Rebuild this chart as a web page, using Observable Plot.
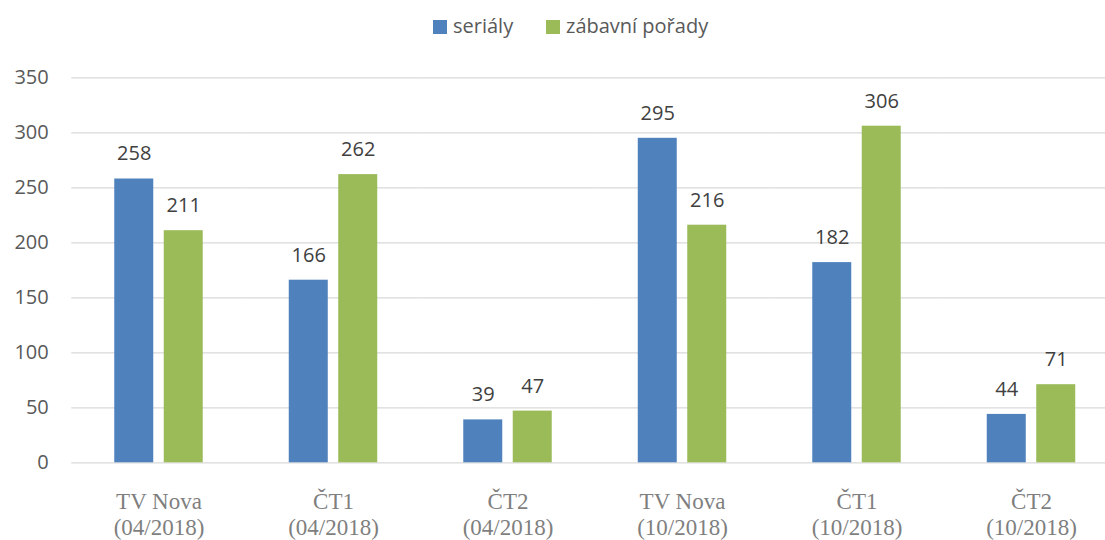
<!DOCTYPE html>
<html><head><meta charset="utf-8">
<script src="https://cdn.jsdelivr.net/npm/d3@7"></script>
<script src="https://cdn.jsdelivr.net/npm/@observablehq/plot@0.6"></script>
<style>
body{margin:0;background:#fff;width:1105px;height:540px;overflow:hidden;font-family:"Open Sans",sans-serif}
#legend{height:60px;position:relative;color:#595959;font-size:20px}
.sw{position:absolute;top:19.5px;width:14px;height:14px}
.lt{position:absolute;top:12px;line-height:28px;white-space:nowrap}
#chart svg{display:block}
</style>
</head><body>
<div id="legend"></div>
<div id="chart"></div>
<script>
const stations = ["TV Nova", "ČT1", "ČT2", "TV Nova", "ČT1", "ČT2"];
const periods = ["04/2018", "04/2018", "04/2018", "10/2018", "10/2018", "10/2018"];
const series = ["seriály", "zábavní pořady"];
const serialy = [258, 166, 39, 295, 182, 44];
const zabavni = [211, 262, 47, 216, 306, 71];
const yTicks = [0, 50, 100, 150, 200, 250, 300, 350];
const colors = ["#4F81BD", "#9BBB59"];

const categories = stations.map((s, i) => `${s}\n(${periods[i]})`);
const data = categories.flatMap((c, i) => [
  {cat: c, series: series[0], value: serialy[i]},
  {cat: c, series: series[1], value: zabavni[i]}
]);

// legend
const legend = document.getElementById("legend");
const legendPos = [[433, 453], [546, 566]];
series.forEach((s, i) => {
  const sw = document.createElement("div");
  sw.className = "sw"; sw.style.left = legendPos[i][0] + "px"; sw.style.background = colors[i];
  const t = document.createElement("div");
  t.className = "lt"; t.style.left = legendPos[i][1] + "px"; t.textContent = s;
  legend.appendChild(sw); legend.appendChild(t);
});

const chart = Plot.plot({
  width: 1105, height: 480,
  marginTop: 17.3, marginBottom: 77.7, marginLeft: 71.25, marginRight: -13.25,
  style: {background: "transparent", fontFamily: "Open Sans", overflow: "hidden"},
  fx: {domain: categories, padding: 0, round: false, label: null, axis: null},
  x: {domain: series, paddingInner: 0.212, paddingOuter: 0.869, round: false, axis: null},
  y: {domain: [0, 350], axis: null},
  color: {domain: series, range: colors},
  marks: [
    Plot.gridY(yTicks, {stroke: "#d9d9d9", strokeOpacity: 1, strokeWidth: 1.3}),
    Plot.barY(data, {fx: "cat", x: "series", y: "value", fill: "series"}),
    Plot.text(data, {fx: "cat", x: "series", y: "value", text: "value", dy: -25, fill: "#404040", fontSize: 20}),
    Plot.axisY(yTicks, {tickSize: 0, tickPadding: 23, fontSize: 20, fill: "#595959", label: null}),
    Plot.axisFx({anchor: "bottom", tickSize: 0, tickPadding: 27.5, fontSize: 23, fontFamily: "Liberation Serif", fill: "#7f7f7f", lineHeight: 1.13, label: null})
  ]
});
document.getElementById("chart").appendChild(chart);
</script>
</body></html>
